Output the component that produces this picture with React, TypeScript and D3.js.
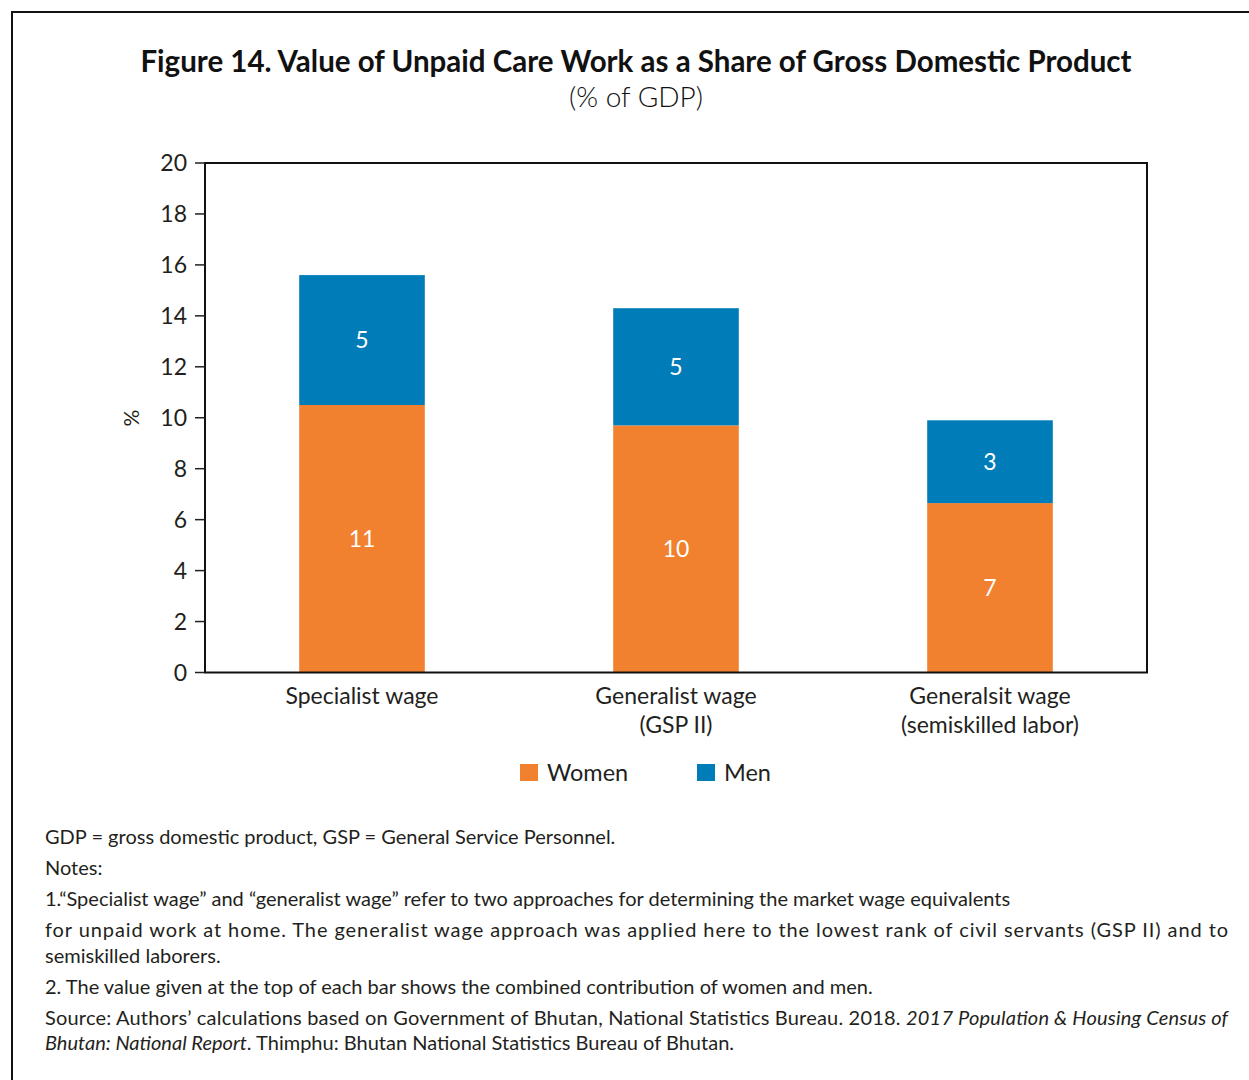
import React from "react";
import * as d3 from "d3";

const categories = [
  ["Specialist wage"],
  ["Generalist wage", "(GSP II)"],
  ["Generalsit wage", "(semiskilled labor)"],
];
const women = [10.5, 9.7, 6.65];
const men = [5.1, 4.6, 3.25];
const womenLabels = ["11", "10", "7"];
const menLabels = ["5", "5", "3"];
const yTicks = [0, 2, 4, 6, 8, 10, 12, 14, 16, 18, 20];
const seriesNames = ["Women", "Men"];
const seriesColors = ["#F1812E", "#007DB8"];

const W = 1249;
const H = 1080;
const FONT = "Lato, 'Open Sans', sans-serif";
const INK = "#231F20";

export default function App() {
  const left = 205, right = 1147, top = 163, bottom = 672.5;
  const x = d3.scaleBand<number>().domain(d3.range(categories.length)).range([left, right]).paddingInner(0.6).paddingOuter(0.3);
  const y = d3.scaleLinear().domain([0, 20]).range([bottom, top]);
  const bw = x.bandwidth();

  return (
    <svg width={W} height={H} style={{ position: "absolute", left: 0, top: 0, background: "#fff" }} fontFamily={FONT}>
      <rect x={0} y={0} width={W} height={H} fill="#fff" />
      {/* outer frame */}
      <line x1={11} y1={12} x2={W} y2={12} stroke="#111" strokeWidth={2} />
      <line x1={12} y1={11} x2={12} y2={H} stroke="#111" strokeWidth={2} />

      <text x={636} y={72} textAnchor="middle" fontSize={29.5} fontWeight={700} fill="#111">
        Figure 14. Value of Unpaid Care Work as a Share of Gross Domestic Product
      </text>
      <text x={636} y={107} textAnchor="middle" fontSize={28} fontWeight={300} fill="#111">(% of GDP)</text>

      {/* bars */}
      {categories.map((c, i) => {
        const x0 = x(i)!;
        const yw = y(women[i]);
        const ym = y(women[i] + men[i]);
        return (
          <g key={i}>
            <rect x={x0} y={yw} width={bw} height={y(0) - yw} fill={seriesColors[0]} />
            <rect x={x0} y={ym} width={bw} height={yw - ym} fill={seriesColors[1]} />
            <text x={x0 + bw / 2} y={(yw + y(0)) / 2} dy="0.35em" textAnchor="middle" fontSize={23} fill="#fff">{womenLabels[i]}</text>
            <text x={x0 + bw / 2} y={(ym + yw) / 2} dy="0.35em" textAnchor="middle" fontSize={23} fill="#fff">{menLabels[i]}</text>
          </g>
        );
      })}

      {/* plot frame */}
      <rect x={left} y={top} width={right - left} height={bottom - top} fill="none" stroke="#111" strokeWidth={2} />

      {/* y ticks */}
      {yTicks.map((t) => (
        <g key={t}>
          <line x1={195} x2={left} y1={y(t)} y2={y(t)} stroke={INK} strokeWidth={1.5} />
          <text x={187} y={y(t)} dy="0.35em" textAnchor="end" fontSize={23} fill={INK}>{t}</text>
        </g>
      ))}
      <text transform={`translate(132,418) rotate(-90)`} textAnchor="middle" dy="0.35em" fontSize={21} fill={INK}>%</text>

      {/* category labels */}
      {categories.map((c, i) => (
        <text key={i} textAnchor="middle" fontSize={23} fill={INK}>
          {c.map((line, j) => (
            <tspan key={j} x={x(i)! + bw / 2} y={704 + j * 29}>{line}</tspan>
          ))}
        </text>
      ))}

      {/* legend */}
      {seriesNames.map((s, i) => {
        const lx = 520 + i * 177;
        return (
          <g key={s}>
            <rect x={lx} y={764} width={18} height={17} fill={seriesColors[i]} />
            <text x={lx + 27} y={781} fontSize={23.5} fill={INK}>{s}</text>
          </g>
        );
      })}

      {/* notes */}
      <g fontSize={20} fill={INK}>
        <text x={45} y={844}>GDP = gross domestic product, GSP = General Service Personnel.</text>
        <text x={45} y={875}>Notes:</text>
        <text x={45} y={906}>1.“Specialist wage” and “generalist wage” refer to two approaches for determining the market wage equivalents</text>
        <text x={45} y={937} textLength={1183} lengthAdjust="spacing">for unpaid work at home. The generalist wage approach was applied here to the lowest rank of civil servants (GSP II) and to</text>
        <text x={45} y={963}>semiskilled laborers.</text>
        <text x={45} y={994}>2. The value given at the top of each bar shows the combined contribution of women and men.</text>
        <text x={45} y={1025} textLength={1183} lengthAdjust="spacing">
          Source: Authors’ calculations based on Government of Bhutan, National Statistics Bureau. 2018. <tspan fontStyle="italic">2017 Population &amp; Housing Census of</tspan>
        </text>
        <text x={45} y={1050}>
          <tspan fontStyle="italic">Bhutan: National Report</tspan>. Thimphu: Bhutan National Statistics Bureau of Bhutan.
        </text>
      </g>
    </svg>
  );
}
